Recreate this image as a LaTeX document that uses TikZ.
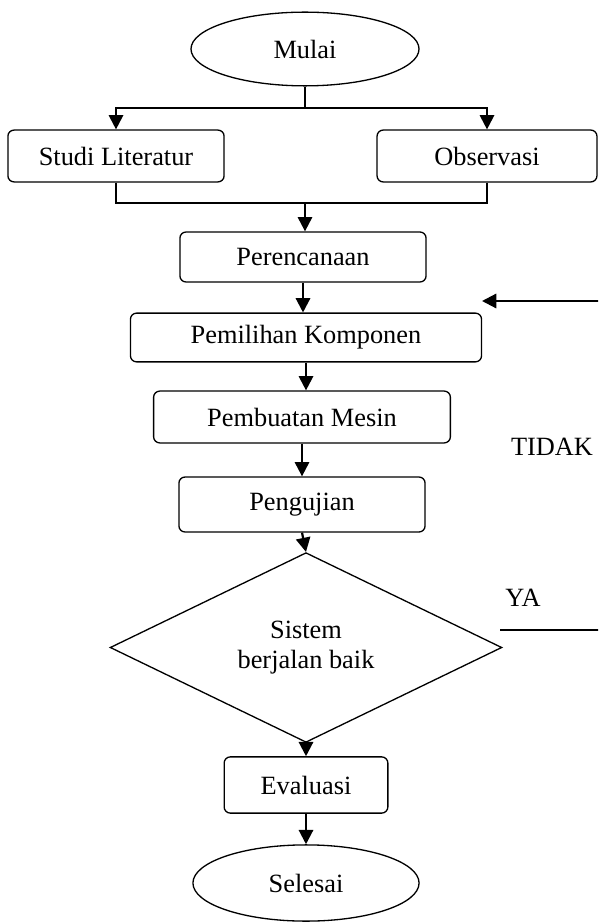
\documentclass[tikz,border=0pt]{standalone}
\usepackage{fontspec}
\setmainfont{Liberation Serif}
\usetikzlibrary{shapes.geometric,arrows.meta}

\begin{document}
\begin{tikzpicture}[x=0.016cm,y=-0.016cm,
   font=\fontsize{12pt}{13.6pt}\selectfont,
   terminal/.style={draw,ellipse,line width=0.6pt,inner sep=0pt},
   proses/.style={draw,rectangle,rounded corners=2.8pt,line width=0.6pt,inner sep=0pt},
   keputusan/.style={draw,diamond,line width=0.6pt,inner sep=0pt,align=center},
   panah/.style={line width=1pt,-{Triangle[width=6.5pt,length=6.5pt]}},
   garis/.style={line width=1pt}]
\clip (0,0) rectangle (598,922);
% langkah-langkah
\node[terminal,minimum width=3.65cm,minimum height=1.18cm] (mulai) at (305,49) {Mulai};
\node[proses,minimum width=3.46cm,minimum height=0.83cm] (studi) at (116,156) {Studi Literatur};
\node[proses,minimum width=3.52cm,minimum height=0.83cm] (obs) at (487,156) {Observasi};
\node[proses,minimum width=3.94cm,minimum height=0.8cm] (renc) at (303,257) {Perencanaan};
\node[proses,minimum width=5.62cm,minimum height=0.78cm] (pilih) at (306,337.5) {Pemilihan Komponen};
\node[proses,minimum width=4.75cm,minimum height=0.83cm] (buat) at (302,417) {Pembuatan Mesin};
\node[proses,minimum width=3.94cm,minimum height=0.88cm] (uji) at (302,504.5) {Pengujian};
\node[keputusan,minimum width=6.27cm,minimum height=2.58cm] (cek) at (306,647.5) {Sistem\\berjalan baik};
\node[proses,minimum width=2.62cm,minimum height=0.9cm] (eval) at (306,785) {Evaluasi};
\node[terminal,minimum width=3.62cm,minimum height=1.22cm] (selesai) at (306,883) {Selesai};
\node (tidak) at (552,447) {TIDAK};
\node (ya) at (523,598) {YA};
% titik bantu
\coordinate (cabang) at (305,108);
\coordinate (gabung) at (305,203);
\coordinate (yaawal) at (500,630);
\coordinate (kananbawah) at (640,630);
\coordinate (kananatas) at (640,301);
\coordinate (masuk) at (482,301);
% garis
\draw[garis] (mulai.south) -- (cabang);
\draw[panah] (cabang) -| (studi.north);
\draw[panah] (cabang) -| (obs.north);
\draw[garis] (studi.south) |- (gabung);
\draw[garis] (obs.south) |- (gabung);
\draw[panah] (gabung) -- (gabung |- renc.north);
\draw[panah] (renc.south) -- (renc.south |- pilih.north);
\draw[panah] (pilih.south) -- (pilih.south |- buat.north);
\draw[panah] (buat.south) -- (buat.south |- uji.north);
\draw[panah] (uji.south) -- (cek.north);
\draw[panah] (cek.south) -- (eval.north);
\draw[panah] (eval.south) -- (selesai.north);
\draw[panah] (yaawal) -- (kananbawah) -- (kananatas) -- (masuk);
\end{tikzpicture}
\end{document}
